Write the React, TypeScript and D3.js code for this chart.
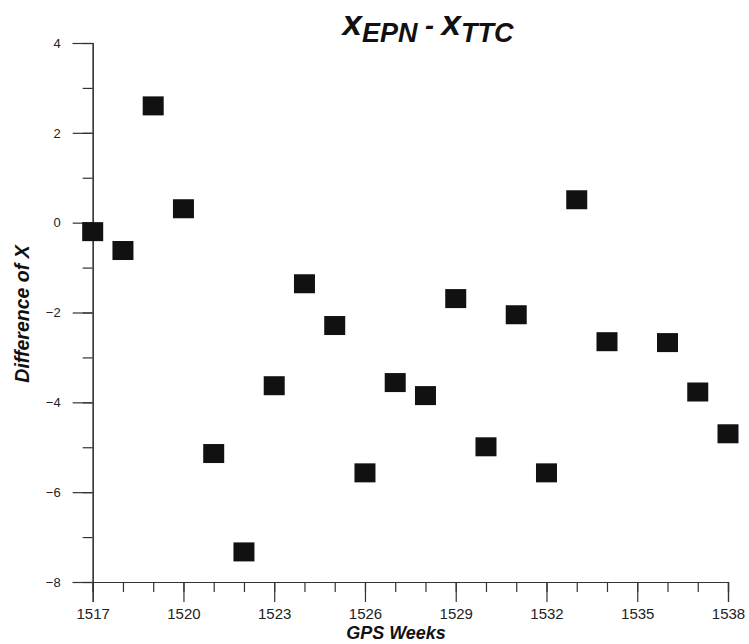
import React, { useEffect, useRef } from "react";
import * as d3 from "d3";

// GPS week of each solution (week 1535 has no value)
const weeks = [
  1517, 1518, 1519, 1520, 1521, 1522, 1523, 1524, 1525, 1526, 1527,
  1528, 1529, 1530, 1531, 1532, 1533, 1534, 1536, 1537, 1538,
];
// X(EPN) - X(TTC), in the chart's units
const diffX = [
  -0.2, -0.62, 2.6, 0.31, -5.14, -7.33, -3.63, -1.36, -2.29, -5.57, -3.56,
  -3.85, -1.69, -4.99, -2.05, -5.57, 0.51, -2.65, -2.67, -3.77, -4.7,
];
const xMajorTicks = [1517, 1520, 1523, 1526, 1529, 1532, 1535, 1538];
const yMajorTicks = [-8, -6, -4, -2, 0, 2, 4];

export default function App() {
  const svgRef = useRef<SVGSVGElement>(null);

  useEffect(() => {
    const w = 749;
    const h = 644;
    const svg = d3.select(svgRef.current).attr("width", w).attr("height", h);
    svg.selectAll("*").remove();

    const x = d3.scaleLinear().domain([1517, 1538]).range([92.7, 728]);
    const y = d3.scaleLinear().domain([-8, 4]).range([582, 43]);

    const axisColor = "#333";
    const font = "'Liberation Sans', Arial, sans-serif";

    // minor ticks (every unit)
    svg
      .append("g")
      .attr("transform", `translate(0,${y(-8)})`)
      .call(
        d3.axisBottom(x).tickValues(d3.range(1517, 1539)).tickSize(10).tickFormat(() => "")
      );
    svg
      .append("g")
      .attr("transform", `translate(${x(1517)},0)`)
      .call(
        d3.axisLeft(y).tickValues(d3.range(-8, 5)).tickSize(10).tickFormat(() => "")
      );

    // major ticks + labels
    const xAxis = svg
      .append("g")
      .attr("transform", `translate(0,${y(-8)})`)
      .call(
        d3.axisBottom(x).tickValues(xMajorTicks).tickSize(20).tickPadding(6).tickFormat(d3.format("d"))
      );
    xAxis.selectAll("text").attr("font-size", 15);

    const yAxis = svg
      .append("g")
      .attr("transform", `translate(${x(1517)},0)`)
      .call(
        d3.axisLeft(y).tickValues(yMajorTicks).tickSize(20).tickPadding(12).tickFormat(d3.format("d"))
      );
    yAxis.selectAll("text").attr("font-size", 13);

    svg.selectAll(".domain").attr("stroke", axisColor).attr("stroke-width", 1.2);
    svg.selectAll(".tick line").attr("stroke", axisColor).attr("stroke-width", 1.2);
    svg
      .selectAll(".tick text")
      .attr("fill", "#222")
      .attr("font-family", font);

    // data squares
    const sw = 21;
    const sh = 19;
    svg
      .selectAll(".pt")
      .data(weeks)
      .enter()
      .append("rect")
      .attr("x", (d) => x(d) - sw / 2)
      .attr("y", (d, i) => y(diffX[i]) - sh / 2)
      .attr("width", sw)
      .attr("height", sh)
      .attr("fill", "#111");

    // title
    const title = svg
      .append("text")
      .attr("x", 428)
      .attr("y", 35)
      .attr("text-anchor", "middle")
      .attr("font-family", font)
      .attr("font-weight", "bold")
      .attr("font-style", "italic")
      .attr("fill", "#111");
    title.append("tspan").attr("font-size", 35).text("x");
    title.append("tspan").attr("font-size", 27).attr("dy", 7).text("EPN");
    title.append("tspan").attr("font-size", 27).attr("dy", -7).text(" - ");
    title.append("tspan").attr("font-size", 35).text("x");
    title.append("tspan").attr("font-size", 27).attr("dy", 7).text("TTC");

    // axis titles
    svg
      .append("text")
      .attr("x", 396)
      .attr("y", 639)
      .attr("text-anchor", "middle")
      .attr("font-family", font)
      .attr("font-weight", "bold")
      .attr("font-style", "italic")
      .attr("font-size", 18)
      .attr("fill", "#111")
      .text("GPS Weeks");

    svg
      .append("text")
      .attr("transform", "translate(29,314) rotate(-90)")
      .attr("text-anchor", "middle")
      .attr("font-family", font)
      .attr("font-weight", "bold")
      .attr("font-style", "italic")
      .attr("font-size", 19.5)
      .attr("fill", "#111")
      .text("Difference of X");
  }, []);

  return (
    <div>
      <svg ref={svgRef} style={{ position: "absolute", left: 0, top: 0, background: "#fff" }}></svg>
    </div>
  );
}
